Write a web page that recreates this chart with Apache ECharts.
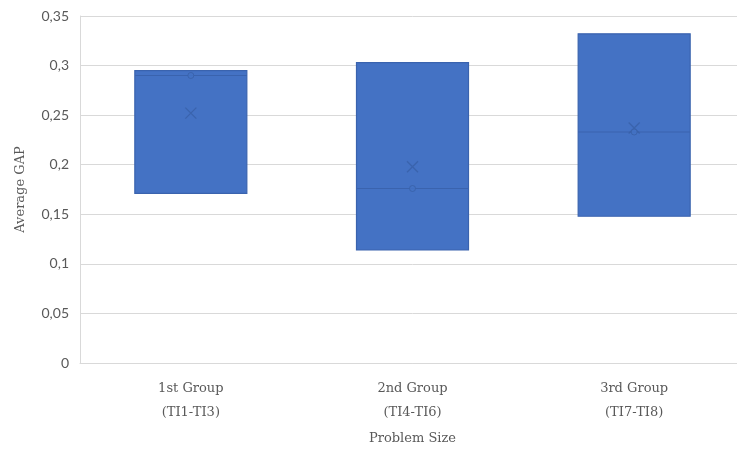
<!DOCTYPE html>
<html>
<head>
<meta charset="utf-8">
<script src="https://cdn.jsdelivr.net/npm/echarts@6/dist/echarts.min.js"></script>
<style>html,body{margin:0;padding:0;background:#fff;overflow:hidden;width:737px;height:450px}#c{width:745px;height:450px}</style>
</head>
<body>
<div id="c"></div>
<script>
var categories = ['1st Group\n(TI1-TI3)', '2nd Group\n(TI4-TI6)', '3rd Group\n(TI7-TI8)'];
var q1Values = [0.171, 0.114, 0.148];
var medianValues = [0.290, 0.176, 0.233];
var q3Values = [0.295, 0.303, 0.332];
var meanValues = [0.252, 0.198, 0.237];
var yTicks = { min: 0, max: 0.35, interval: 0.05 };

var boxData = categories.map(function (c, i) {
  return [q1Values[i], q1Values[i], medianValues[i], q3Values[i], q3Values[i]];
});

var chart = echarts.init(document.getElementById('c'), null, { renderer: 'canvas' });
chart.setOption({
  animation: false,
  backgroundColor: '#ffffff',
  grid: { left: 80, right: 0, top: 16, bottom: 83 },
  xAxis: {
    type: 'category',
    data: categories,
    name: 'Problem Size',
    nameLocation: 'middle',
    nameGap: 69,
    nameTextStyle: { fontFamily: 'DejaVu Serif', fontSize: 13, color: '#595959' },
    axisLine: { show: true, lineStyle: { color: '#d9d9d9' } },
    axisTick: { show: false },
    axisLabel: { fontFamily: 'DejaVu Serif', fontSize: 13, color: '#595959', lineHeight: 24, margin: 14 },
    splitLine: { show: false }
  },
  yAxis: {
    type: 'value',
    min: yTicks.min, max: yTicks.max, interval: yTicks.interval,
    name: 'Average GAP',
    nameLocation: 'middle',
    nameGap: 53,
    nameTextStyle: { fontFamily: 'DejaVu Serif', fontSize: 13, color: '#595959' },
    axisLine: { show: true, lineStyle: { color: '#d9d9d9' } },
    axisTick: { show: false },
    axisLabel: {
      fontFamily: 'Lato', fontSize: 14, color: '#595959', margin: 11,
      formatter: function (v) { return String(Math.round(v * 100) / 100).replace('.', ','); }
    },
    splitLine: { show: true, lineStyle: { color: '#d9d9d9' } }
  },
  series: [
    {
      type: 'boxplot',
      data: boxData,
      boxWidth: [112, 112],
      itemStyle: { color: '#4472C4', borderColor: '#3A63AE', borderWidth: 1.2 },
      z: 2
    },
    {
      type: 'scatter',
      data: meanValues,
      symbol: 'path://M0,0L10,10M10,0L0,10',
      symbolSize: 11,
      itemStyle: { color: 'transparent', borderColor: '#3860A8', borderWidth: 1.3 },
      z: 3
    },
    {
      type: 'scatter',
      data: medianValues,
      symbol: 'circle',
      symbolSize: 6,
      itemStyle: { color: '#4472C4', borderColor: '#3860A8', borderWidth: 1 },
      z: 3
    }
  ]
});
</script>
</body>
</html>
